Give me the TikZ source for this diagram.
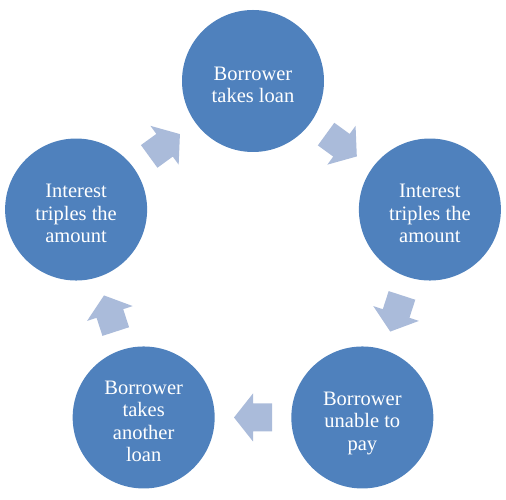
\documentclass[tikz,border=0pt]{standalone}
\usepackage{fontspec}
\setmainfont{Liberation Serif}
\usepackage{xcolor}
\usetikzlibrary{calc}

\definecolor{stepblue}{RGB}{79,129,189}
\definecolor{flowblue}{RGB}{170,187,218}
% struts that keep the lines a little below the middle
\newcommand{\stagetop}{\rule{0pt}{26pt}}
\newcommand{\stagebot}{\rule[-5pt]{0pt}{5pt}}

\begin{document}
\begin{tikzpicture}[x=1pt, y=1pt,
    stage/.style={circle, fill=stepblue, minimum size=142pt, inner sep=0pt,
      align=center, text=white, font=\fontsize{20.5}{22.5}\selectfont},
    flow/.style={fill=flowblue}
  ]
  \useasboundingbox (0,0) rectangle (506,500);
  \coordinate (ctr) at (253,233);
  % The five stages of the cycle
  \node[stage] (takeloan) at ($(ctr)+(90:186)$) {\stagetop Borrower\\takes loan\stagebot};
  \node[stage] (tripleA) at ($(ctr)+(18:186)$) {\stagetop Interest\\triples the\\amount\stagebot};
  \node[stage] (unable) at ($(ctr)+(-54:186)$) {\stagetop Borrower\\unable to\\pay\stagebot};
  \node[stage] (another) at ($(ctr)+(-126:186)$) {\stagetop Borrower\\takes\\another\\loan\stagebot};
  \node[stage] (tripleB) at ($(ctr)+(162:186)$) {\stagetop Interest\\triples the\\amount\stagebot};
  % Block arrows between the stages
  \foreach \from/\to/\dir in {takeloan/tripleA/-36, tripleA/unable/-108,
      unable/another/-180, another/tripleB/-252, tripleB/takeloan/-324}
    \fill[flow, shift={($(\from)!0.5!(\to)$)}, rotate=\dir]
      (-19,-14) -- (0,-14) -- (0,-24) -- (19,0) -- (0,24) -- (0,14) -- (-19,14) -- cycle;
\end{tikzpicture}
\end{document}
